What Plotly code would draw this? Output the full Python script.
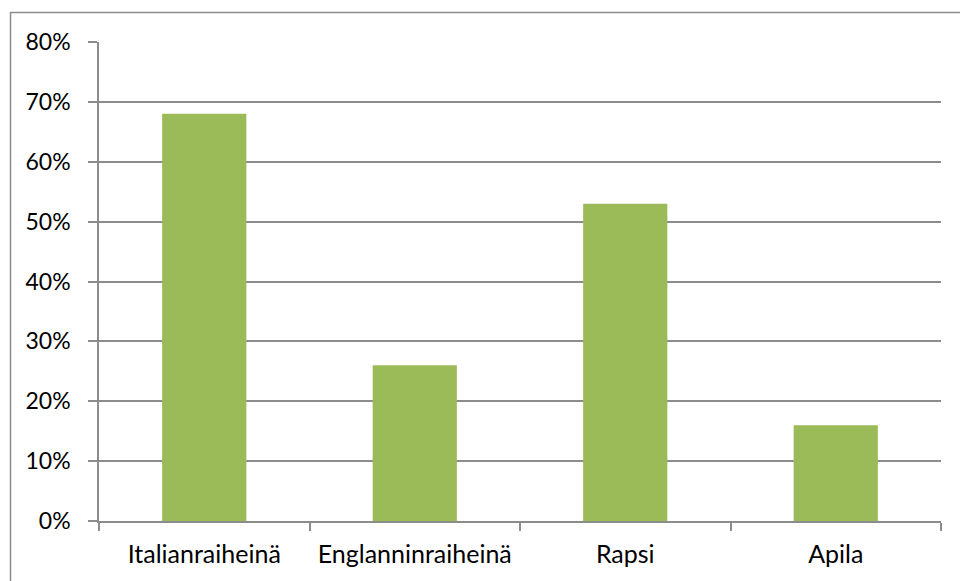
import plotly.graph_objects as go

categories = ["Italianraiheinä", "Englanninraiheinä", "Rapsi", "Apila"]
shares = [0.68, 0.26, 0.53, 0.16]
tick_vals = [0, 0.1, 0.2, 0.3, 0.4, 0.5, 0.6, 0.7, 0.8]
tick_text = ["0%", "10%", "20%", "30%", "40%", "50%", "60%", "70%", "80%"]

W, H = 960, 581
ML, MR, MT, MB = 99, 19, 42, 60
PW, PH = W - ML - MR, H - MT - MB

grid = "#8c8c8c"
yfont = dict(family="Lato, Open Sans, sans-serif", size=23, color="#000000")
xfont = dict(family="Lato, Open Sans, sans-serif", size=25, color="#000000")

fig = go.Figure(
    go.Bar(
        x=categories,
        y=shares,
        marker=dict(color="#9BBB59", line=dict(width=0)),
        width=0.4,
    )
)

fig.update_layout(
    width=W,
    height=H,
    margin=dict(l=ML, r=MR, t=MT, b=MB, pad=0),
    paper_bgcolor="white",
    plot_bgcolor="white",
    showlegend=False,
    font=yfont,
    bargap=0.6,
    xaxis=dict(
        showgrid=False,
        showline=True,
        linecolor=grid,
        linewidth=1.5,
        ticks="outside",
        ticklen=8,
        tickcolor=grid,
        tickwidth=1.5,
        tickson="boundaries",
        tickfont=xfont,
        ticklabelstandoff=10,
        range=[-0.5, 3.5],
    ),
    yaxis=dict(
        range=[0, 0.8],
        tickvals=tick_vals,
        ticktext=tick_text,
        showgrid=True,
        gridcolor=grid,
        gridwidth=1.5,
        showline=True,
        linecolor=grid,
        linewidth=1.5,
        ticks="outside",
        ticklen=9,
        tickcolor=grid,
        tickwidth=1.5,
        tickfont=yfont,
        ticklabelstandoff=13,
        zeroline=False,
    ),
    shapes=[
        dict(
            type="rect",
            xref="paper",
            yref="paper",
            x0=(10.5 - ML) / PW,
            x1=1 + (MR + 20) / PW,
            y0=-(MB + 20) / PH,
            y1=1 + (MT - 12.5) / PH,
            line=dict(color="#8c8c8c", width=1.5),
            fillcolor="rgba(0,0,0,0)",
            layer="below",
        )
    ],
)

fig.write_html("out.html")
